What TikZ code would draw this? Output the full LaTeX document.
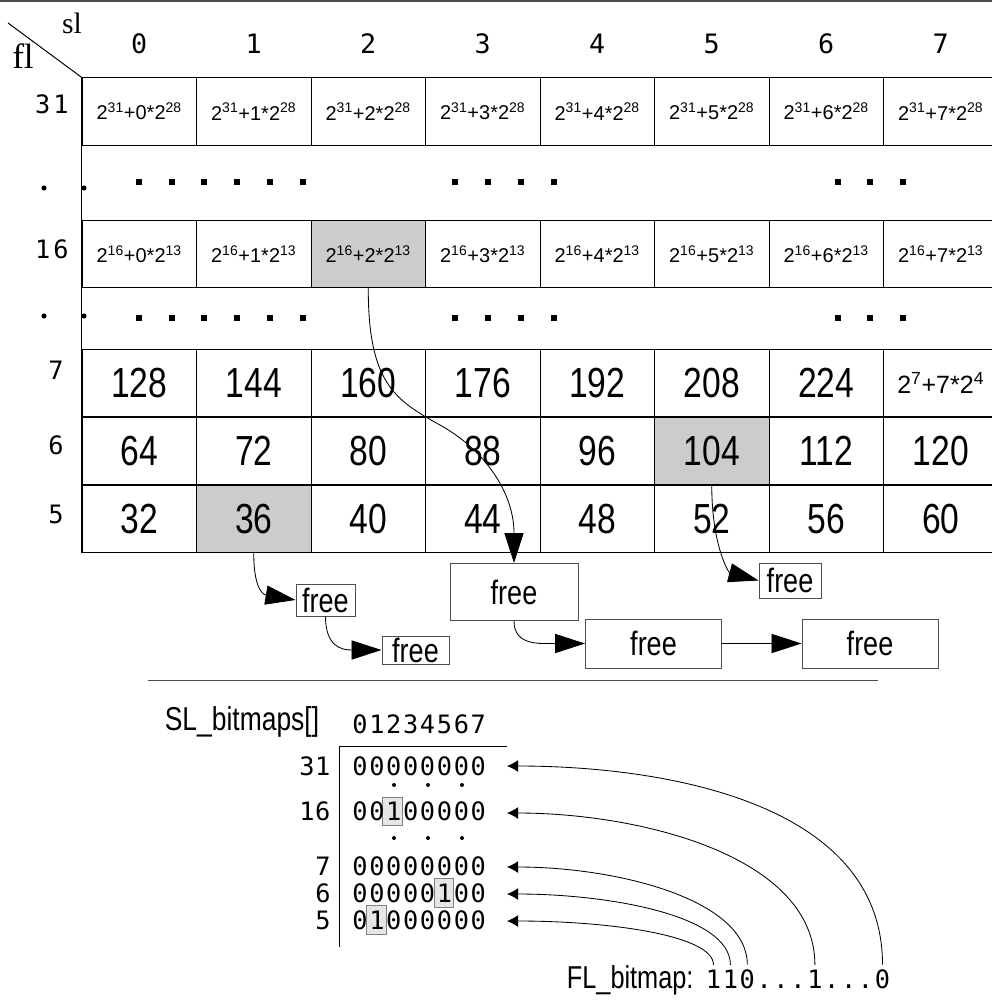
\documentclass[tikz,border=0pt]{standalone}
\usepackage{fontspec}
\setmainfont{Liberation Sans}
\newfontfamily\narrowsans{Liberation Sans}[FakeStretch=0.8]
\newfontfamily\bitfont{DejaVu Sans Mono}
\newfontfamily\axisserif{Liberation Serif}
\usetikzlibrary{arrows.meta,positioning,calc}
\definecolor{cellgray}{HTML}{CCCCCC}
\definecolor{bitgray}{HTML}{E6E6E6}
\definecolor{framegray}{HTML}{4D4D4D}
\newcommand{\pix}{0.025cm}

\begin{document}
\begin{tikzpicture}[x=\pix, y=-\pix, line width=0.7pt,
  cell/.style={rectangle, draw, fill=#1, minimum width=114.5*\pix, minimum height=67.5*\pix, inner sep=0pt},
  cell/.default=white,
  numcell/.style={cell=#1, font=\narrowsans\fontsize{29.9pt}{32pt}\selectfont},
  numcell/.default=white,
  expcell/.style={cell=#1, font=\fontsize{14.2pt}{16pt}\selectfont},
  expcell/.default=white,
  colhead/.style={anchor=base, inner sep=0pt, font=\bitfont\fontsize{19pt}{20pt}\selectfont},
  rowhead/.style={anchor=base, inner sep=0pt, font=\bitfont\fontsize{18pt}{20pt}\selectfont},
  freebox/.style={rectangle, draw=framegray, inner sep=0pt, font=\narrowsans\fontsize{24pt}{26pt}\selectfont},
  bit/.style={anchor=base, inner sep=0pt, font=\bitfont\fontsize{18pt}{20pt}\selectfont},
  caption/.style={inner sep=0pt, font=\narrowsans\fontsize{23.5pt}{25pt}\selectfont},
  bigarr/.style={-{Triangle[length=0.75cm,width=0.48cm]}, line width=0.6pt},
  smallarr/.style={-{Latex[length=0.28cm,width=0.3cm]}, line width=0.6pt}
]
  \useasboundingbox (0,0) rectangle (992,1000);
  \draw[framegray, line width=1.5pt] (0,1) -- (992,1);

  % Corner and column headers
  \coordinate (corner) at (8,23);
  \node[anchor=base, inner sep=0pt, font=\axisserif\fontsize{21pt}{22pt}\selectfont] (sl) at (72,33) {sl};
  \node[anchor=base, inner sep=0pt, font=\axisserif\fontsize{25pt}{26pt}\selectfont] (fl) at (23,68) {fl};
  \foreach \i in {0,...,7}{\node[colhead] (col\i) at (139.25+114.5*\i, 53) {\i};}

  % fl = 31
  \foreach \i in {0,...,7}{\node[expcell] (c31-\i) at (139.25+114.5*\i, 111.5) {2\textsuperscript{31}+\i*2\textsuperscript{28}};}
  % fl = 16
  \foreach \i/\f in {0/white,1/white,2/cellgray,3/white,4/white,5/white,6/white,7/white}{\node[expcell=\f] (c16-\i) at (139.25+114.5*\i, 254) {2\textsuperscript{16}+\i*2\textsuperscript{13}};}
  % fl = 7
  \foreach \v [count=\i from 0] in {128,144,160,176,192,208,224}{\node[numcell] (c7-\i) at (139.25+114.5*\i, 383) {\v};}
  \node[cell, font=\fontsize{17.8pt}{19pt}\selectfont] (c7-7) at (139.25+114.5*7, 383) {2\textsuperscript{7}+7*2\textsuperscript{4}};
  % fl = 6
  \foreach \v/\f [count=\i from 0] in {64/white,72/white,80/white,88/white,96/white,104/cellgray,112/white,120/white}{\node[numcell=\f] (c6-\i) at (139.25+114.5*\i, 451) {\v};}
  % fl = 5
  \foreach \v/\f [count=\i from 0] in {32/white,36/cellgray,40/white,44/white,48/white,52/white,56/white,60/white}{\node[numcell=\f] (c5-\i) at (139.25+114.5*\i, 519) {\v};}
  \draw (c31-0.north west) -- (c5-0.south west);
  \draw (corner) -- (c31-0.north west);

  % Row headers
  \node[rowhead] (r31) at (52,113) {\addfontfeature{LetterSpace=12}31};
  \node[rowhead] (r16) at (52,258) {\addfontfeature{LetterSpace=12}16};
  \foreach \r/\yb in {7/379,6/454,5/523}{\node[rowhead] (r\r) at (56,\yb) {\r};}

  % Elided rows
  \foreach \yd in {188,316}{
    \fill (44,\yd) circle[radius=2.6*\pix];
    \fill (84,\yd) circle[radius=2.6*\pix];
  }
  \foreach \yd in {182,318}{
    \foreach \xd in {139,172,204,237,270,303,455,488,521,554,838,870,903}{\fill ({\xd-2.7},{\yd-3}) rectangle +(5.4,6);}
  }

  % Free lists
  \node[freebox, minimum width=59*\pix, minimum height=32*\pix] (freeA) at (325.5,600) {free};
  \node[freebox, minimum width=67*\pix, minimum height=28*\pix] (freeB) at (415.5,650) {free};
  \node[freebox, minimum width=128*\pix, minimum height=57*\pix] (freeC) at (514,592) {free};
  \node[freebox, minimum width=136*\pix, minimum height=49*\pix] (freeD) at (653.5,643.5) {free};
  \node[freebox, minimum width=136*\pix, minimum height=49*\pix] (freeE) at (870,643.5) {free};
  \node[freebox, minimum width=62*\pix, minimum height=35*\pix] (freeF) at (790,580.5) {free};
  \coordinate (bend) at (440,425);
  \draw[bigarr] (c5-1.south) .. controls +(0,40) and +(-30,-5) .. (freeA.west);
  \draw[bigarr] (freeA.south) .. controls +(0,30) and +(-40,0) .. (freeB.west);
  \draw[bigarr] (c16-2.south) .. controls +(0,95) and +(-45,-25) .. (bend) .. controls +(45,25) and +(0,-70) .. (freeC.north);
  \draw[bigarr] (freeC.south) .. controls +(0,25) and +(-45,0) .. (freeD.west);
  \draw[bigarr] (freeD) -- (freeE);
  \draw[bigarr] (c6-5.south) .. controls +(0,60) and +(-30,-8) .. (freeF.west);

  \draw[framegray] (148,680) -- (878,680);

  % Bitmaps
  \node[caption, anchor=base] (slmap) at (242,730) {SL\_bitmaps[]};
  \foreach \i in {0,...,7}{\node[bit] (h\i) at (360+16.9*\i, 733) {\i};}
  \draw (507,746) -- (339,746) -- (339,947);
  \draw[draw=gray, fill=bitgray, line width=0.6pt] (382,797) rectangle (402,825);
  \draw[draw=gray, fill=bitgray, line width=0.6pt] (434,878) rectangle (453,907);
  \draw[draw=gray, fill=bitgray, line width=0.6pt] (366,905) rectangle (386,934);
  \foreach \r/\yb/\bits in {31/775/{0,0,0,0,0,0,0,0},16/820/{0,0,1,0,0,0,0,0},7/875/{0,0,0,0,0,0,0,0},6/902/{0,0,0,0,0,1,0,0},5/929/{0,1,0,0,0,0,0,0}}{
    \node[bit, anchor=base east] (l\r) at (331,\yb) {\addfontfeature{LetterSpace=3}\r};
    \foreach \b [count=\i from 0] in \bits {\node[bit] (b\r-\i) at (360+16.9*\i, \yb) {\b};}
  }
  \foreach \yd in {785,838}{
    \foreach \xd in {394,428,462}{\fill (\xd,\yd) circle[radius=2*\pix];}
  }

  % FL bitmap
  \node[caption, anchor=base east, font=\narrowsans\fontsize{22.5pt}{24pt}\selectfont] (flmap) at (694,988) {FL\_bitmap:};
  \foreach \c [count=\i] in {1,1,0,.,.,.,1,.,.,.,0}{\node[bit, inner ysep=3pt] (fb\i) at (713.5+16.9*\i-16.9, 988) {\c};}
  \coordinate (t31) at (507,766);
  \coordinate (t16) at (507,813);
  \coordinate (t7) at (507,867);
  \coordinate (t6) at (507,894);
  \coordinate (t5) at (507,921);
  \draw[smallarr] (fb11.north) .. controls +(0,-165) and +(150,0) .. (t31);
  \draw[smallarr] (fb7.north) .. controls +(0,-110) and +(130,0) .. (t16);
  \draw[smallarr] (fb3.north) .. controls +(0,-65) and +(110,0) .. (t7);
  \draw[smallarr] (fb2.north) .. controls +(0,-50) and +(100,0) .. (t6);
  \draw[smallarr] (fb1.north) .. controls +(0,-30) and +(100,0) .. (t5);
\end{tikzpicture}
\end{document}
